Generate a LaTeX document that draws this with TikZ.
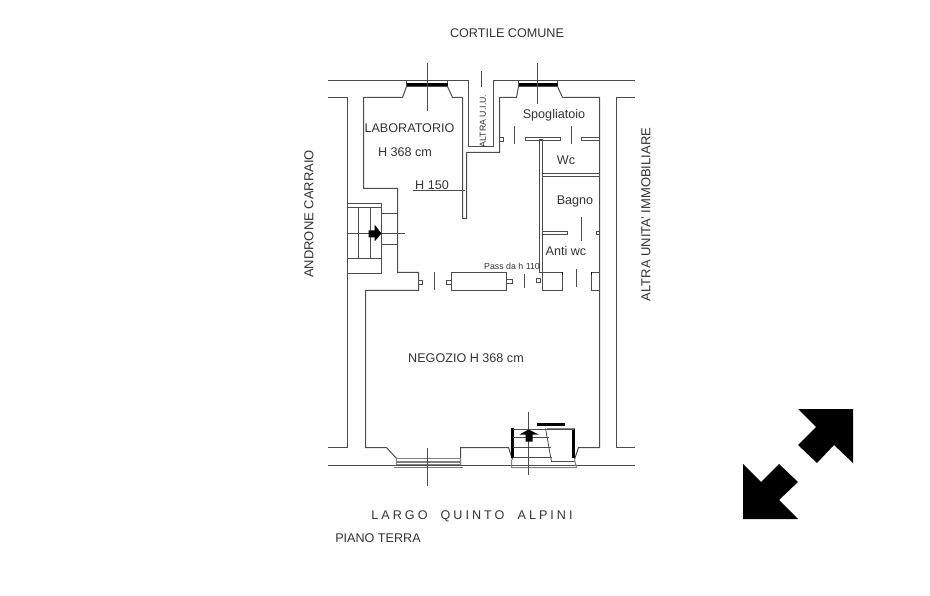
\documentclass[tikz,border=0pt]{standalone}
\usepackage{fontspec}
\setmainfont{Liberation Sans}
\usepackage{tikz}
\usetikzlibrary{positioning}
\definecolor{tratto}{gray}{0.3}
\tikzstyle{muro}=[draw=tratto,line width=1pt,line join=miter]
\tikzstyle{fine}=[draw=tratto,line width=0.8pt]
\tikzstyle{vetro}=[draw=black,line width=3pt]
\tikzstyle{grigio}=[draw=gray,line width=1pt]
\tikzstyle{testo}=[inner sep=0pt,text=black!80,font=\fontsize{12.6}{14}\selectfont]
\tikzstyle{verticale}=[inner sep=0pt,text=black!80,rotate=90,font=\fontsize{13}{14}\selectfont]
\tikzstyle{piccolo}=[inner sep=0pt,text=black!80,font=\fontsize{8.8}{10}\selectfont]
\begin{document}
\begin{tikzpicture}[x=1pt,y=-1pt]
\useasboundingbox (0,0) rectangle (930,596);
\begin{scope}[shift={(-0.5,-0.5)}]
%muri esterni
\draw[muro] (328,81) -- (469,81) -- (469,147) -- (494,147) -- (494,81) -- (635,81);
\draw[muro] (328,98) -- (348,98) -- (348,448) -- (328,448);
\draw[muro] (635,98) -- (617,98) -- (617,448) -- (635,448);
\draw[muro] (328,466) -- (635,466);
%laboratorio
\draw[muro] (407,87) -- (403,98) -- (364,98) -- (364,189) -- (398,189) -- (398,273) -- (419,273) -- (419,291) -- (366,291) -- (366,448) -- (387,448) -- (397,459);
\draw[muro] (448,87) -- (453,98) -- (463,98) -- (463,219) -- (467,219) -- (467,153) -- (500,153) -- (500,98) -- (517,98) -- (519,87);
\draw[muro] (558,87) -- (563,98) -- (600,98) -- (600,273) -- (600,448) -- (579,448) -- (575,460);
\draw[muro] (461,465) -- (461,448) -- (509,448) -- (513,460);
\draw[fine] (413,191) -- (465,191);
%finestre
\draw[fine] (407,81) -- (407,87) -- (448,87) -- (448,81);
\draw[fine] (519,81) -- (519,87) -- (558,87) -- (558,81);
\draw[vetro] (407,85) -- (448,85);
\draw[vetro] (519,85) -- (558,85);
\draw[fine] (428,64) -- (428,112);
\draw[fine] (538,64) -- (538,105);
\draw[fine] (482,72) -- (482,88);
%bagni
\draw[muro] (540,140) rectangle (543,273);
\draw[muro] (526,138) rectangle (561,141);
\draw[muro] (600,138) -- (582,138) -- (582,141) -- (600,141);
\draw[muro] (500,138) rectangle (504,142);
\draw[muro] (543,174) -- (600,174);
\draw[muro] (543,177) -- (600,177);
\draw[muro] (543,232) -- (568,232) -- (568,235) -- (543,235);
\draw[muro] (600,232) -- (597,232) -- (597,235) -- (600,235);
\draw[fine] (515,127) -- (515,145);
\draw[fine] (572,127) -- (572,145);
\draw[fine] (582,218) -- (582,242);
%porte
\draw[muro] (419,281) rectangle (423,285);
\draw[fine] (435,273) -- (435,291);
\draw[muro] (447,281) rectangle (452,285);
\draw[muro] (452,273) rectangle (507,291);
\draw[muro] (507,280) rectangle (513,284);
\draw[fine] (525,275) -- (525,289);
\draw[muro] (537,279) -- (541,279) -- (541,283) -- (537,283) -- cycle;
\draw[muro] (543,273) rectangle (563,291);
\draw[vetro,line width=1.2pt] (563,273) -- (563,276);
\draw[fine] (577,270) -- (577,288);
\draw[muro] (600,273) -- (592,273) -- (592,291) -- (600,291);
\draw[vetro,line width=1.2pt] (592,273) -- (592,276);
%scala
\draw[muro] (347,204) -- (382,204) -- (382,274) -- (347,274);
\draw[fine] (347,208) -- (382,208);
\draw[fine] (347,259) -- (382,259);
\draw[fine] (359,208) -- (359,259);
\draw[fine] (371,208) -- (371,259);
\draw[fine] (347,234) -- (405,234);
\draw[fine] (382,214) -- (398,214);
\draw[fine] (382,245) -- (398,245);
\fill[black] (369,231) -- (375,231) -- (375,225) -- (382,234) -- (375,242) -- (375,238) -- (369,238) -- cycle;
%vetrina
\draw[grigio] (397,459) rectangle (461,465);
\draw[grigio,line width=2pt] (397,462) -- (461,462);
\draw[grigio] (394,468) -- (463,468);
\draw[fine] (428,448) -- (428,486);
%ingresso
\draw[vetro,line width=2.4pt] (513,428) -- (513,458);
\draw[vetro,line width=2.4pt] (574,428) -- (574,458);
\draw[fine] (513,430) -- (574,430);
\draw[fine] (513,438) -- (549,438);
\draw[fine] (513,448) -- (551,448);
\draw[fine] (513,458) -- (552,458);
\draw[fine] (546,429) -- (552,462) -- (575,462);
\draw[vetro,line width=2.4pt] (537,425) -- (565,425);
\draw[grigio,line width=1.6pt] (547,429) -- (575,429);
\draw[grigio] (512,460) -- (512,468) -- (577,468) -- (575,460);
\draw[fine] (529,412) -- (529,475);
\fill[black] (520,435) -- (529,430) -- (539,435) -- (533,435) -- (533,442) -- (526,442) -- (526,435) -- cycle;
\end{scope}
%frecce
\fill[black] (798,409) -- (853,409) -- (853,463) -- (834,445) -- (817,463) -- (798,445) -- (816,427) -- cycle;
\fill[black] (743,464) -- (761,482) -- (779,464) -- (798,482) -- (779,500) -- (798,519) -- (743,519) -- cycle;
%testi
\node[testo] (cortile) at (507,33) {CORTILE COMUNE};
\node[testo] (lab) at (409.5,128) {LABORATORIO};
\node[testo] (hlab) at (405,152) {H 368 cm};
\node[testo] (h150) at (432,185) {H 150};
\node[testo] (spo) at (554,115.5) {Spogliatoio};
\node[testo] (wc) at (566,160) {Wc};
\node[testo] (bagno) at (575,201) {Bagno};
\node[testo] (anti) at (566,251) {Anti wc};
\node[piccolo] (pass) at (512,266) {Pass da h 110};
\node[testo] (neg) at (466,358) {NEGOZIO H 368 cm};
\node[verticale] (and) at (309,214) {ANDRONE CARRAIO};
\node[verticale] (altra) at (646,214.5) {ALTRA UNITA' IMMOBILIARE};
\node[piccolo,rotate=90] (altraui) at (483,121) {ALTRA U.I.U.};
\node[testo] (largo) at (472,516) {\addfontfeature{LetterSpace=24}LARGO\ \ QUINTO\ \ ALPINI};
\node[testo] (piano) at (378,538.5) {PIANO TERRA};
\end{tikzpicture}
\end{document}
